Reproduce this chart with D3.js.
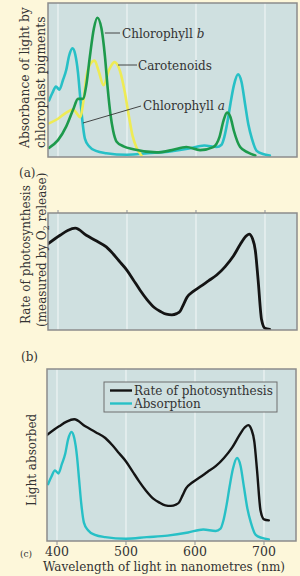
<!DOCTYPE html>
<html><head><meta charset="utf-8">
<script src="https://cdn.jsdelivr.net/npm/d3@7"></script>
<style>
html,body{margin:0;padding:0;background:#fdf7da;}
svg{display:block;}
text{font-family:"DejaVu Serif","Liberation Serif",serif;fill:#333;}
</style></head><body>
<script>
// ---------- data ----------
const tickWavelengths = [400, 500, 600, 700];
const tickLabels = ["400", "500", "600", "700"];

const chlA_nm  = [387,392,397,402,407,412,416,421,425,429,432,435,439,445,455,470,500,530,560,590,612,630,637,641,646,650,655,661,666,671,676,681,688,697,707];
const chlA_val = [0.37,0.42,0.46,0.44,0.50,0.57,0.66,0.71,0.67,0.55,0.40,0.25,0.12,0.07,0.04,0.025,0.015,0.025,0.035,0.055,0.075,0.065,0.08,0.13,0.24,0.35,0.47,0.54,0.49,0.35,0.21,0.12,0.04,0.02,0.01];

const chlB_nm  = [387,400,412,422,429,436,441,446,452,457,463,468,472,476,480,485,495,509,543,565,586,606,625,634,640,645,650,655,664,675,686];
const chlB_val = [0.06,0.11,0.20,0.31,0.38,0.38,0.47,0.65,0.84,0.91,0.84,0.66,0.45,0.28,0.17,0.10,0.07,0.05,0.03,0.045,0.065,0.045,0.065,0.13,0.24,0.29,0.26,0.17,0.065,0.03,0.01];

const carot_nm  = [387,400,412,422,428,432,437,441,447,453,459,466,474,482,490,497,503,508,514,521];
const carot_val = [0.22,0.25,0.29,0.31,0.28,0.26,0.37,0.52,0.61,0.63,0.56,0.47,0.57,0.62,0.56,0.42,0.26,0.14,0.06,0.01];

const rate_nm  = [384,403,414,425,441,456,470,480,490,500,509,519,529,540,548,557,565,572,577,582,587,596,606,618,630,642,654,664,672,677,682,686,690,695,700,707];
const rate_val = [0.73,0.81,0.85,0.87,0.81,0.76,0.71,0.65,0.58,0.51,0.43,0.34,0.26,0.19,0.16,0.135,0.13,0.14,0.16,0.22,0.28,0.33,0.37,0.42,0.47,0.54,0.63,0.73,0.80,0.82,0.78,0.68,0.43,0.09,0.015,0.006];

const legendLabels = ["Rate of photosynthesis", "Absorption"];

// ---------- styles ----------
const COL = {bg:"#fdf7da", plot:"#cfe0e0", border:"#8c8c8c", grid:"#f4f8f8",
  cyan:"#27c0c6", green:"#1d9a4c", yellow:"#eeeb55", black:"#141414"};

const W = 300, H = 576;
const svg = d3.select("body").append("svg").attr("width", W).attr("height", H);
svg.append("rect").attr("width", W).attr("height", H).attr("fill", COL.bg);

const defs = svg.append("defs");
let clipId = 0;

function panel(x0, x1, y0, y1, opts) {
  const x = d3.scaleLinear().domain([385.5, 746.4]).range([x0, x1]);
  const g = svg.append("g");
  const id = "clip" + (clipId++);
  defs.append("clipPath").attr("id", id).append("rect")
    .attr("x", x0).attr("y", y0).attr("width", x1 - x0).attr("height", y1 - y0);
  g.append("rect").attr("x", x0).attr("y", y0).attr("width", x1 - x0).attr("height", y1 - y0)
    .attr("fill", COL.plot);
  g.selectAll("line.grid").data(tickWavelengths).join("line").attr("class", "grid")
    .attr("x1", d => x(d)).attr("x2", d => x(d))
    .attr("y1", y0 + (opts.tickTop ? -3 : 0)).attr("y2", y1 + (opts.tickBottom ? 4 : 0))
    .attr("stroke", COL.grid).attr("stroke-width", 1);
  if (opts.tickTop) {
    g.selectAll("line.tt").data(tickWavelengths).join("line").attr("class", "tt")
      .attr("x1", d => x(d)).attr("x2", d => x(d)).attr("y1", y0 - 3).attr("y2", y0)
      .attr("stroke", "#777").attr("stroke-width", 0.8);
  }
  if (opts.tickBottom) {
    g.selectAll("line.tb").data(tickWavelengths).join("line").attr("class", "tb")
      .attr("x1", d => x(d)).attr("x2", d => x(d)).attr("y1", y1).attr("y2", y1 + 4)
      .attr("stroke", "#777").attr("stroke-width", 0.8);
  }
  const content = g.append("g").attr("clip-path", `url(#${id})`);
  return {x, g, content, x0, x1, y0, y1};
}

function drawLine(p, y, nm, vals, color, width) {
  const pts = nm.map((d, i) => [d, vals[i]]);
  const line = d3.line().x(d => p.x(d[0])).y(d => y(d[1])).curve(d3.curveMonotoneX);
  p.content.append("path").attr("d", line(pts)).attr("fill", "none")
    .attr("stroke", color).attr("stroke-width", width)
    .attr("stroke-linejoin", "round").attr("stroke-linecap", "round");
}

function border(p) {
  p.g.append("rect").attr("x", p.x0).attr("y", p.y0).attr("width", p.x1 - p.x0).attr("height", p.y1 - p.y0)
    .attr("fill", "none").attr("stroke", COL.border).attr("stroke-width", 1.5);
}

function vlabel(x, y, parts, size) {
  const t = svg.append("text").attr("transform", `translate(${x},${y}) rotate(-90)`)
    .attr("font-size", size);
  parts.forEach(pt => {
    const s = t.append("tspan").text(pt.t);
    if (pt.sub) s.attr("font-size", size * 0.65).attr("dy", 3);
    if (pt.after) s.attr("dy", -3);
  });
  return t;
}

// ---------- panel (a) ----------
const pa = panel(48, 297, 3, 157, {});
const ya = d3.scaleLinear().domain([0, 1]).range([157, 4]);
drawLine(pa, ya, chlA_nm, chlA_val, COL.cyan, 2.6);
drawLine(pa, ya, carot_nm, carot_val, COL.yellow, 2.6);
drawLine(pa, ya, chlB_nm, chlB_val, COL.green, 2.6);
border(pa);

// annotations
const leader = (x1, y1, x2, y2) => svg.append("line").attr("x1", x1).attr("y1", y1).attr("x2", x2).attr("y2", y2)
  .attr("stroke", "#333").attr("stroke-width", 0.9);
leader(pa.x(468), 33, 120, 33);
const tb = svg.append("text").attr("x", 122).attr("y", 37.5).attr("font-size", 12);
tb.append("tspan").text("Chlorophyll ");
tb.append("tspan").attr("font-style", "italic").text("b");
leader(pa.x(487), 65, 137, 65);
svg.append("text").attr("x", 138).attr("y", 69.5).attr("font-size", 12).text("Carotenoids");
leader(83, 123, 141, 106);
const ta = svg.append("text").attr("x", 143).attr("y", 110).attr("font-size", 12);
ta.append("tspan").text("Chlorophyll ");
ta.append("tspan").attr("font-style", "italic").text("a");

vlabel(29, 148, [{t:"Absorbance of light by"}], 12.3);
vlabel(45, 148, [{t:"chloroplast pigments"}], 12.3);
svg.append("text").attr("x", 19).attr("y", 177).attr("font-size", 12).text("(a)");

// ---------- panel (b) ----------
const pb = panel(48, 297, 213, 330, {tickTop: true});
const yb = d3.scaleLinear().domain([0, 1]).range([330, 213]);
drawLine(pb, yb, rate_nm, rate_val, COL.black, 2.8);
border(pb);
vlabel(30, 324, [{t:"Rate of photosynthesis"}], 12);
vlabel(46, 327, [{t:"(measured by O"}, {t:"2", sub:true}, {t:" release)", after:true}], 12);
svg.append("text").attr("x", 21).attr("y", 361).attr("font-size", 12).text("(b)");

// ---------- panel (c) ----------
const pc = panel(47, 296, 369, 541, {tickBottom: true});
const ycAbs = d3.scaleLinear().domain([0, 1.12]).range([541, 369]);
const ycRate = d3.scaleLinear().domain([-0.17, 1.3]).range([541, 369]);
drawLine(pc, ycAbs, chlA_nm, chlA_val, COL.cyan, 2.4);
drawLine(pc, ycRate, rate_nm, rate_val, COL.black, 2.4);

// legend
const lg = svg.append("g");
lg.append("rect").attr("x", 104).attr("y", 382).attr("width", 173).attr("height", 30)
  .attr("fill", COL.plot).attr("stroke", "#6e6e6e").attr("stroke-width", 1);
const legendColors = [COL.black, COL.cyan];
legendLabels.forEach((lab, i) => {
  const yy = 390.5 + i * 13;
  lg.append("line").attr("x1", 110).attr("x2", 132).attr("y1", yy).attr("y2", yy)
    .attr("stroke", legendColors[i]).attr("stroke-width", 2.4);
  lg.append("text").attr("x", 134).attr("y", yy + 4.2).attr("font-size", 12).text(lab);
});
border(pc);

// x-axis tick labels
svg.selectAll("text.tick").data(tickWavelengths).join("text").attr("class", "tick")
  .attr("x", d => pc.x(d)).attr("y", 556).attr("text-anchor", "middle").attr("font-size", 12.5)
  .text((d, i) => tickLabels[i]);
svg.append("text").attr("x", 20).attr("y", 557).attr("font-size", 9).text("(c)");
svg.append("text").attr("x", 43).attr("y", 571).attr("font-size", 12).text("Wavelength of light in nanometres (nm)");
vlabel(36, 506, [{t:"Light absorbed"}], 12);
</script>
</body></html>
